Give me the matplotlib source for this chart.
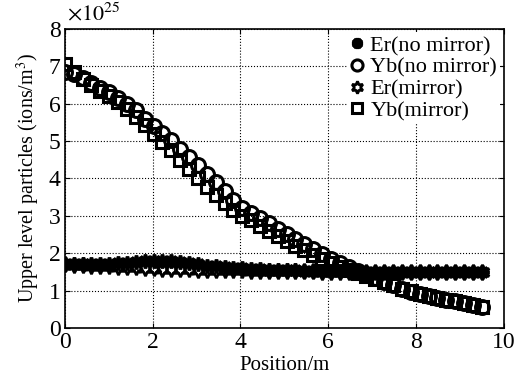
import matplotlib
matplotlib.use("Agg")
import matplotlib.pyplot as plt
import numpy as np

plt.rcParams['font.family'] = ['Liberation Serif', 'DejaVu Serif']
plt.rcParams['mathtext.fontset'] = 'stix'

position = np.linspace(0, 9.5, 48)

yb_no_mirror = [6.85, 6.78, 6.68, 6.55, 6.42, 6.30, 6.15, 6.00, 5.82, 5.60,
                5.40, 5.22, 5.02, 4.80, 4.58, 4.35, 4.12, 3.90, 3.65, 3.42,
                3.22, 3.08, 2.95, 2.80, 2.66, 2.52, 2.38, 2.25, 2.10, 1.97,
                1.85, 1.74, 1.63, 1.53, 1.43, 1.33, 1.23, 1.14, 1.05, 0.97,
                0.90, 0.85, 0.80, 0.75, 0.71, 0.67, 0.62, 0.57]
yb_mirror = [7.05, 6.85, 6.65, 6.50, 6.35, 6.20, 6.05, 5.85, 5.65, 5.42,
             5.20, 4.98, 4.75, 4.50, 4.25, 4.00, 3.78, 3.55, 3.35, 3.15,
             3.00, 2.88, 2.74, 2.60, 2.46, 2.33, 2.20, 2.08, 1.95, 1.84,
             1.74, 1.64, 1.55, 1.47, 1.39, 1.30, 1.22, 1.14, 1.05, 0.98,
             0.91, 0.85, 0.80, 0.75, 0.71, 0.67, 0.62, 0.57]
er_no_mirror = [1.70, 1.70, 1.70, 1.71, 1.71, 1.72, 1.73, 1.74, 1.76, 1.78,
                1.79, 1.79, 1.78, 1.76, 1.73, 1.70, 1.67, 1.65, 1.63, 1.61,
                1.60, 1.58, 1.57, 1.56, 1.55, 1.55, 1.54, 1.53, 1.53, 1.52,
                1.52, 1.51, 1.51, 1.50, 1.50, 1.50, 1.50, 1.50, 1.50, 1.50,
                1.50, 1.50, 1.50, 1.50, 1.50, 1.50, 1.50, 1.50]
er_mirror = [1.70, 1.69, 1.68, 1.67, 1.66, 1.65, 1.64, 1.63, 1.62, 1.61,
             1.60, 1.59, 1.58, 1.57, 1.57, 1.56, 1.56, 1.55, 1.55, 1.54,
             1.54, 1.53, 1.53, 1.52, 1.52, 1.52, 1.51, 1.51, 1.51, 1.50,
             1.50, 1.50, 1.50, 1.50, 1.50, 1.50, 1.50, 1.50, 1.50, 1.50,
             1.50, 1.50, 1.50, 1.50, 1.50, 1.50, 1.50, 1.50]

fig = plt.figure(figsize=(5.15, 3.8), dpi=100)
ax = fig.add_axes([0.126, 0.137, 0.852, 0.787])

ax.plot(position, er_no_mirror, ls='none', marker=(8, 2, 0), ms=10, mew=2.6,
        color='k', label='Er(no mirror)')
ax.plot(position, yb_no_mirror, ls='none', marker='o', ms=10, mew=2.2,
        mfc='none', color='k', label='Yb(no mirror)')
ax.plot(position, er_mirror, ls='none', marker=(6, 1, 0), ms=11, mew=2,
        mfc='none', color='k', label='Er(mirror)')
ax.plot(position, yb_mirror, ls='none', marker='s', ms=9, mew=2.2,
        mfc='none', color='k', label='Yb(mirror)')

ax.set_xlim(0, 10)
ax.set_ylim(0, 8)
ax.set_xticks([0, 2, 4, 6, 8, 10])
ax.set_yticks(range(0, 9))
ax.grid(True, ls=':', color='k', lw=0.8)
ax.tick_params(direction='in', top=True, right=True, labelsize=17, pad=3)
for s in ax.spines.values():
    s.set_linewidth(1.2)

ax.set_xlabel('Position/m', fontsize=15, labelpad=2)
ax.set_ylabel('Upper level particles (ions/m$^3$)', fontsize=14.5, labelpad=5)
ax.text(0.005, 1.01, r'$\times10^{25}$', transform=ax.transAxes, fontsize=16,
        va='bottom', ha='left')

leg = ax.legend(loc='upper right', frameon=True, fontsize=16, handlelength=0.6,
                handletextpad=0.3, labelspacing=0.05, borderaxespad=0.15,
                borderpad=0.15, markerscale=0.8)
leg.get_frame().set_edgecolor('none')
leg.get_frame().set_facecolor('white')
leg.get_frame().set_alpha(1)

fig.savefig('out.png', dpi=100)
